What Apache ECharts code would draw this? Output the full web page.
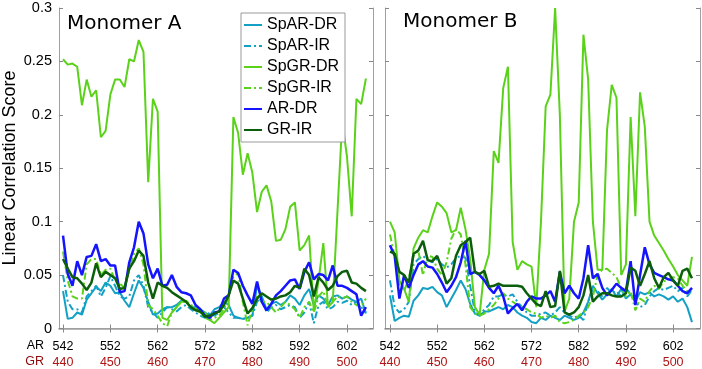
<!DOCTYPE html>
<html>
<head>
<meta charset="utf-8">
<title>Linear Correlation Score</title>
<script src="https://cdn.jsdelivr.net/npm/echarts@6/dist/echarts.min.js"></script>
<style>
  html, body { margin: 0; padding: 0; background: #fff; }
  #main { width: 702px; height: 369px; }
</style>
</head>
<body>
<div id="main"></div>
<script>
// residue numbers along x (AR numbering)
var residues = [542, 543, 544, 545, 546, 547, 548, 549, 550, 551,
    552, 553, 554, 555, 556, 557, 558, 559, 560, 561,
    562, 563, 564, 565, 566, 567, 568, 569, 570, 571,
    572, 573, 574, 575, 576, 577, 578, 579, 580, 581,
    582, 583, 584, 585, 586, 587, 588, 589, 590, 591,
    592, 593, 594, 595, 596, 597, 598, 599, 600, 601,
    602, 603, 604, 605, 606];

// tick labels: AR row and the matching GR row
var arTicks = [542, 552, 562, 572, 582, 592, 602];
var grTicks = [440, 450, 460, 470, 480, 490, 500];
var yTicks = [0, 0.05, 0.1, 0.15, 0.2, 0.25, 0.3];

var seriesNames = ['SpAR-DR', 'SpAR-IR', 'SpGR-DR', 'SpGR-IR', 'AR-DR', 'GR-IR'];
var panelTitles = ['Monomer A', 'Monomer B'];

// ---- Monomer A ----
var spArDrA = [0.035, 0.009, 0.010, 0.015, 0.013, 0.027, 0.033, 0.039, 0.035, 0.043,
    0.040, 0.033, 0.034, 0.026, 0.020, 0.033, 0.045, 0.038, 0.025, 0.013,
    0.014, 0.018, 0.020, 0.020, 0.022, 0.026, 0.025, 0.020, 0.020, 0.018,
    0.015, 0.012, 0.018, 0.020, 0.025, 0.022, 0.012, 0.010, 0.009, 0.010,
    0.012, 0.040, 0.030, 0.018, 0.023, 0.025, 0.022, 0.025, 0.031, 0.028,
    0.022, 0.031, 0.037, 0.022, 0.031, 0.028, 0.022, 0.030, 0.031, 0.028,
    0.030, 0.027, 0.025, 0.028, 0.014];
var spArIrA = [0.050, 0.025, 0.018, 0.018, 0.015, 0.030, 0.035, 0.040, 0.030, 0.038,
    0.049, 0.040, 0.030, 0.028, 0.030, 0.045, 0.050, 0.040, 0.020, 0.015,
    0.010, 0.015, 0.020, 0.018, 0.016, 0.020, 0.022, 0.018, 0.015, 0.012,
    0.010, 0.015, 0.012, 0.015, 0.020, 0.015, 0.010, 0.010, 0.009, 0.010,
    0.012, 0.025, 0.030, 0.015, 0.020, 0.022, 0.018, 0.020, 0.022, 0.020,
    0.010, 0.015, 0.025, 0.005, 0.022, 0.025, 0.018, 0.020, 0.025, 0.024,
    0.026, 0.022, 0.025, 0.020, 0.015];
var spGrDrA = [0.252, 0.247, 0.248, 0.245, 0.209, 0.233, 0.217, 0.223, 0.179, 0.185,
    0.219, 0.233, 0.233, 0.226, 0.252, 0.250, 0.270, 0.259, 0.137, 0.215,
    0.203, 0.010, 0.008, 0.015, 0.020, 0.025, 0.025, 0.020, 0.018, 0.015,
    0.015, 0.008, 0.005, 0.010, 0.015, 0.020, 0.198, 0.183, 0.144, 0.164,
    0.146, 0.109, 0.128, 0.134, 0.119, 0.082, 0.083, 0.093, 0.114, 0.118,
    0.073, 0.078, 0.087, 0.016, 0.045, 0.080, 0.020, 0.025, 0.110, 0.194,
    0.161, 0.105, 0.215, 0.210, 0.234];
var spGrIrA = [0.072, 0.045, 0.030, 0.028, 0.028, 0.060, 0.065, 0.065, 0.050, 0.055,
    0.056, 0.045, 0.042, 0.038, 0.055, 0.070, 0.075, 0.060, 0.022, 0.018,
    0.012, 0.005, 0.002, 0.015, 0.020, 0.025, 0.026, 0.022, 0.020, 0.015,
    0.010, 0.008, 0.010, 0.012, 0.018, 0.030, 0.048, 0.052, 0.025, 0.003,
    0.018, 0.030, 0.025, 0.025, 0.020, 0.015, 0.020, 0.025, 0.022, 0.018,
    0.010, 0.020, 0.025, 0.015, 0.030, 0.035, 0.020, 0.025, 0.030, 0.028,
    0.030, 0.025, 0.022, 0.020, 0.028];
var arDrA = [0.087, 0.051, 0.040, 0.063, 0.050, 0.067, 0.068, 0.079, 0.063, 0.065,
    0.059, 0.059, 0.034, 0.035, 0.062, 0.076, 0.100, 0.089, 0.060, 0.047,
    0.056, 0.040, 0.041, 0.050, 0.039, 0.034, 0.033, 0.031, 0.022, 0.018,
    0.012, 0.010, 0.015, 0.016, 0.028, 0.031, 0.055, 0.052, 0.040, 0.031,
    0.023, 0.044, 0.025, 0.017, 0.023, 0.031, 0.035, 0.040, 0.045, 0.046,
    0.037, 0.053, 0.062, 0.046, 0.051, 0.050, 0.045, 0.059, 0.040, 0.040,
    0.038, 0.035, 0.032, 0.012, 0.020];
var grIrA = [0.065, 0.056, 0.048, 0.047, 0.042, 0.036, 0.043, 0.061, 0.048, 0.053,
    0.050, 0.047, 0.037, 0.038, 0.056, 0.063, 0.073, 0.068, 0.043, 0.028,
    0.043, 0.040, 0.038, 0.034, 0.031, 0.028, 0.025, 0.020, 0.017, 0.016,
    0.011, 0.012, 0.014, 0.016, 0.022, 0.031, 0.045, 0.042, 0.028, 0.014,
    0.019, 0.028, 0.033, 0.030, 0.027, 0.028, 0.030, 0.031, 0.034, 0.040,
    0.038, 0.056, 0.050, 0.030, 0.048, 0.043, 0.036, 0.040, 0.049, 0.053,
    0.054, 0.043, 0.042, 0.038, 0.035];

// ---- Monomer B ----
var spArDrB = [0.031, 0.007, 0.010, 0.012, 0.011, 0.026, 0.031, 0.038, 0.037, 0.039,
    0.034, 0.031, 0.020, 0.028, 0.036, 0.045, 0.037, 0.023, 0.014, 0.012,
    0.016, 0.016, 0.018, 0.020, 0.018, 0.022, 0.020, 0.015, 0.012, 0.010,
    0.006, 0.005, 0.010, 0.008, 0.012, 0.010, 0.008, 0.012, 0.010, 0.008,
    0.010, 0.015, 0.025, 0.040, 0.033, 0.027, 0.032, 0.037, 0.030, 0.037,
    0.028, 0.032, 0.025, 0.034, 0.032, 0.034, 0.030, 0.032, 0.030, 0.027,
    0.030, 0.025, 0.028, 0.020, 0.006];
var spArIrB = [0.045, 0.020, 0.015, 0.018, 0.025, 0.060, 0.065, 0.068, 0.064, 0.062,
    0.065, 0.060, 0.057, 0.060, 0.066, 0.068, 0.066, 0.040, 0.015, 0.012,
    0.018, 0.022, 0.030, 0.030, 0.032, 0.030, 0.032, 0.025, 0.020, 0.015,
    0.012, 0.012, 0.014, 0.015, 0.012, 0.015, 0.020, 0.015, 0.012, 0.010,
    0.012, 0.008, 0.025, 0.038, 0.035, 0.030, 0.038, 0.033, 0.035, 0.030,
    0.038, 0.032, 0.025, 0.020, 0.022, 0.030, 0.035, 0.038, 0.036, 0.038,
    0.040, 0.035, 0.038, 0.030, 0.036];
var spGrDrB = [0.100, 0.090, 0.045, 0.037, 0.025, 0.075, 0.085, 0.092, 0.090, 0.105,
    0.118, 0.114, 0.108, 0.090, 0.092, 0.113, 0.093, 0.065, 0.020, 0.013,
    0.055, 0.070, 0.166, 0.155, 0.225, 0.245, 0.081, 0.055, 0.063, 0.060,
    0.058, 0.020, 0.100, 0.208, 0.219, 0.300, 0.200, 0.016, 0.028, 0.100,
    0.118, 0.275, 0.233, 0.100, 0.055, 0.055, 0.186, 0.228, 0.216, 0.050,
    0.060, 0.198, 0.105, 0.221, 0.189, 0.100, 0.087, 0.080, 0.073, 0.065,
    0.058, 0.050, 0.045, 0.040, 0.067];
var spGrIrB = [0.088, 0.068, 0.040, 0.035, 0.047, 0.068, 0.073, 0.050, 0.068, 0.067,
    0.056, 0.050, 0.062, 0.084, 0.093, 0.088, 0.060, 0.020, 0.014, 0.012,
    0.014, 0.018, 0.022, 0.028, 0.033, 0.028, 0.025, 0.022, 0.020, 0.018,
    0.015, 0.014, 0.010, 0.012, 0.010, 0.012, 0.006, 0.005, 0.006, 0.008,
    0.012, 0.015, 0.020, 0.030, 0.050, 0.055, 0.056, 0.052, 0.048, 0.038,
    0.030, 0.035, 0.017, 0.028, 0.025, 0.035, 0.040, 0.037, 0.044, 0.046,
    0.048, 0.047, 0.040, 0.035, 0.037];
var arDrB = [0.078, 0.068, 0.028, 0.050, 0.038, 0.050, 0.060, 0.063, 0.058, 0.057,
    0.051, 0.043, 0.034, 0.040, 0.048, 0.062, 0.082, 0.051, 0.053, 0.050,
    0.045, 0.038, 0.033, 0.040, 0.030, 0.014, 0.019, 0.023, 0.017, 0.025,
    0.030, 0.028, 0.028, 0.031, 0.035, 0.025, 0.053, 0.033, 0.040, 0.033,
    0.028, 0.047, 0.078, 0.047, 0.051, 0.038, 0.031, 0.036, 0.042, 0.038,
    0.035, 0.063, 0.022, 0.050, 0.076, 0.060, 0.052, 0.050, 0.048, 0.046,
    0.045, 0.040, 0.035, 0.033, 0.038];
var grIrB = [0.072, 0.070, 0.053, 0.050, 0.043, 0.070, 0.073, 0.082, 0.064, 0.063,
    0.068, 0.056, 0.042, 0.047, 0.068, 0.078, 0.081, 0.085, 0.053, 0.051,
    0.054, 0.039, 0.040, 0.042, 0.040, 0.040, 0.040, 0.040, 0.039, 0.033,
    0.028, 0.023, 0.021, 0.035, 0.020, 0.021, 0.054, 0.015, 0.013, 0.015,
    0.020, 0.031, 0.050, 0.025, 0.030, 0.033, 0.033, 0.031, 0.030, 0.030,
    0.033, 0.057, 0.054, 0.040, 0.051, 0.063, 0.047, 0.038, 0.048, 0.052,
    0.045, 0.040, 0.054, 0.056, 0.047];

var FONT = 'Liberation Sans';
var frameColor = '#a0a0a0';
var dashDot = [7, 3, 2, 3];
var styles = {
    'SpAR-DR': {color: '#12a0c4', type: 'solid', width: 2},
    'SpAR-IR': {color: '#12a0c4', type: dashDot, width: 2},
    'SpGR-DR': {color: '#5ad21a', type: 'solid', width: 2},
    'SpGR-IR': {color: '#5ad21a', type: dashDot, width: 2},
    'AR-DR': {color: '#1414ff', type: 'solid', width: 2.5},
    'GR-IR': {color: '#0b5e0b', type: 'solid', width: 2.5}
};

function line(name, vals, panel) {
    var st = styles[name];
    return {
        name: name,
        type: 'line',
        xAxisIndex: panel * 2,
        yAxisIndex: panel * 2,
        symbol: 'none',
        animation: false,
        data: residues.map(function (r, i) { return [r, vals[i]]; }),
        itemStyle: {color: st.color},
        lineStyle: {color: st.color, width: st.width, type: st.type}
    };
}

// x axis pair (bottom with labels, top mirror) for one panel
function xAxes(grid, min, max) {
    var tick = {show: true, inside: true, length: 4, customValues: arTicks, lineStyle: {color: '#888'}};
    return [{
        type: 'value', gridIndex: grid, position: 'bottom', min: min, max: max,
        axisLine: {lineStyle: {color: frameColor, width: 1.5}},
        axisTick: tick,
        splitLine: {show: false},
        axisLabel: {
            show: true, customValues: arTicks, margin: 10,
            formatter: function (v) {
                var i = arTicks.indexOf(Math.round(v));
                return '{a|' + arTicks[i] + '}\n{g|' + grTicks[i] + '}';
            },
            rich: {
                a: {fontFamily: FONT, fontSize: 12.5, color: '#000', lineHeight: 16},
                g: {fontFamily: FONT, fontSize: 12.5, color: '#b01515', lineHeight: 16}
            }
        }
    }, {
        type: 'value', gridIndex: grid, position: 'top', min: min, max: max,
        axisLine: {lineStyle: {color: frameColor}},
        axisTick: tick,
        splitLine: {show: false},
        axisLabel: {show: false}
    }];
}

function yAxes(grid, labels) {
    var tick = {show: true, inside: true, length: 4, lineStyle: {color: '#888'}};
    return [{
        type: 'value', gridIndex: grid, position: 'left', min: 0, max: 0.3, interval: 0.05,
        axisLine: {show: true, lineStyle: {color: frameColor}},
        axisTick: tick,
        splitLine: {show: false},
        axisLabel: {show: labels, fontFamily: FONT, fontSize: 14.5, color: '#000', margin: 7}
    }, {
        type: 'value', gridIndex: grid, position: 'right', min: 0, max: 0.3, interval: 0.05,
        axisLine: {show: true, lineStyle: {color: frameColor}},
        axisTick: tick,
        splitLine: {show: false},
        axisLabel: {show: false}
    }];
}

var myChart = echarts.init(document.getElementById('main'));

var option = {
    backgroundColor: '#fff',
    animation: false,
    grid: [
        {left: 59, top: 8, width: 314, height: 322},
        {left: 385, top: 8, width: 315, height: 322}
    ],
    xAxis: xAxes(0, 541.15, 607.5).concat(xAxes(1, 540.95, 607.7)),
    yAxis: yAxes(0, true).concat(yAxes(1, false)),
    legend: {
        data: seriesNames,
        orient: 'vertical',
        left: 241,
        top: 13,
        itemWidth: 18,
        itemHeight: 14,
        itemGap: 5,
        padding: [4, 6, 4, 2],
        borderColor: '#999',
        borderWidth: 1,
        backgroundColor: '#fff',
        // hide the marker dot, keep only the line sample
        itemStyle: {opacity: 0},
        textStyle: {fontFamily: FONT, fontSize: 16, color: '#000'}
    },
    graphic: [
        {type: 'text', x: 67, y: 24, style: {text: panelTitles[0], fontFamily: 'DejaVu Sans', fontSize: 20, fill: '#000', textVerticalAlign: 'middle'}},
        {type: 'text', x: 403, y: 22, style: {text: panelTitles[1], fontFamily: 'DejaVu Sans', fontSize: 20, fill: '#000', textVerticalAlign: 'middle'}},
        {type: 'text', x: 10, y: 168, rotation: Math.PI / 2,
            style: {text: 'Linear Correlation Score', fontFamily: FONT, fontSize: 18, fill: '#000', textAlign: 'center', textVerticalAlign: 'middle'}},
        {type: 'text', x: 44, y: 346, style: {text: 'AR', fontFamily: FONT, fontSize: 12.5, fill: '#000', textAlign: 'right', textVerticalAlign: 'middle'}},
        {type: 'text', x: 44, y: 362, style: {text: 'GR', fontFamily: FONT, fontSize: 12.5, fill: '#8f0a0a', textAlign: 'right', textVerticalAlign: 'middle'}}
    ],
    series: [
        line('SpAR-DR', spArDrA, 0), line('SpAR-IR', spArIrA, 0),
        line('SpGR-DR', spGrDrA, 0), line('SpGR-IR', spGrIrA, 0),
        line('AR-DR', arDrA, 0), line('GR-IR', grIrA, 0),
        line('SpAR-DR', spArDrB, 1), line('SpAR-IR', spArIrB, 1),
        line('SpGR-DR', spGrDrB, 1), line('SpGR-IR', spGrIrB, 1),
        line('AR-DR', arDrB, 1), line('GR-IR', grIrB, 1)
    ]
};

myChart.setOption(option);
</script>
</body>
</html>
